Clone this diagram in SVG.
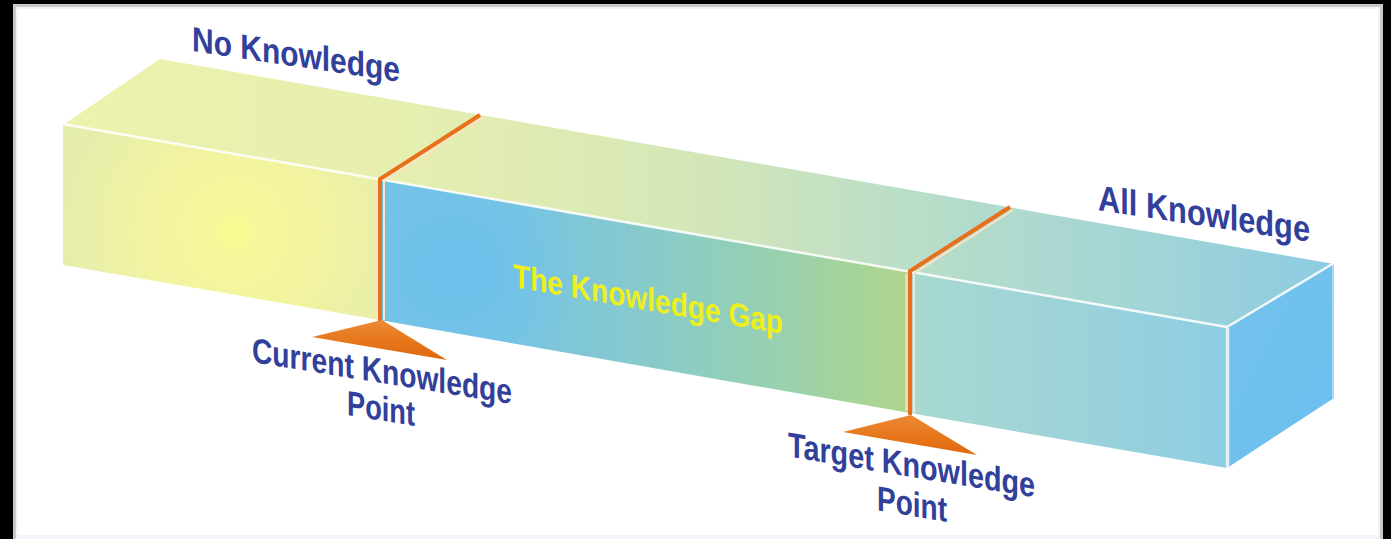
<svg xmlns="http://www.w3.org/2000/svg" width="1391" height="539" viewBox="0 0 1391 539">
  <style>
    .label { font-family: "Liberation Sans", Arial, sans-serif; font-weight: bold; fill: #31409a; }
    .gap { font-family: "Liberation Sans", Arial, sans-serif; font-weight: bold; fill: #eef01c; }
    .marker-line { stroke: #e8701a; stroke-width: 4; fill: none; stroke-linecap: butt; }
    .marker-glow { stroke: #fbe3c8; stroke-width: 2; fill: none; }
    .edge-hi { stroke: #ffffff; stroke-width: 2.5; fill: none; stroke-opacity: 0.85; }
  </style>
  <defs>
    <linearGradient id="topFace" gradientUnits="userSpaceOnUse" x1="63" y1="0" x2="1334" y2="0">
      <stop offset="0" stop-color="#edf2ac"/>
      <stop offset="0.28" stop-color="#e6eeb0"/>
      <stop offset="0.5" stop-color="#d4e6b8"/>
      <stop offset="0.72" stop-color="#b2dbcc"/>
      <stop offset="0.85" stop-color="#a2d5d6"/>
      <stop offset="1" stop-color="#8ccbe2"/>
    </linearGradient>
    <radialGradient id="leftFront" gradientUnits="userSpaceOnUse" cx="235" cy="232" r="190">
      <stop offset="0" stop-color="#fbfd8c"/>
      <stop offset="0.12" stop-color="#f6f79a"/>
      <stop offset="0.5" stop-color="#f1f3a2"/>
      <stop offset="1" stop-color="#e4ecae"/>
    </radialGradient>
    <linearGradient id="midFront" gradientUnits="userSpaceOnUse" x1="380" y1="0" x2="910" y2="0">
      <stop offset="0" stop-color="#74c3e8"/>
      <stop offset="0.25" stop-color="#78c4e2"/>
      <stop offset="0.45" stop-color="#84c9d0"/>
      <stop offset="0.7" stop-color="#94cfb6"/>
      <stop offset="0.9" stop-color="#a6d498"/>
      <stop offset="1" stop-color="#b0d68c"/>
    </linearGradient>
    <radialGradient id="midSpot" gradientUnits="userSpaceOnUse" cx="462" cy="268" r="120">
      <stop offset="0" stop-color="#6cc0ee" stop-opacity="0.9"/>
      <stop offset="1" stop-color="#6cc0ee" stop-opacity="0"/>
    </radialGradient>
    <linearGradient id="rightFront" gradientUnits="userSpaceOnUse" x1="910" y1="0" x2="1227" y2="0">
      <stop offset="0" stop-color="#a8d9d2"/>
      <stop offset="0.5" stop-color="#9cd3d9"/>
      <stop offset="1" stop-color="#8dcde2"/>
    </linearGradient>
    <linearGradient id="endFace" x1="0" y1="0" x2="1" y2="1">
      <stop offset="0" stop-color="#74c3ec"/>
      <stop offset="1" stop-color="#6bbeee"/>
    </linearGradient>
    <linearGradient id="pointer" x1="0" y1="0" x2="0" y2="1">
      <stop offset="0" stop-color="#ec8a34"/>
      <stop offset="0.6" stop-color="#e67418"/>
      <stop offset="1" stop-color="#e06810"/>
    </linearGradient>
  </defs>

  <!-- frame -->
  <rect x="0" y="0" width="1391" height="539" fill="#000000"/>
  <rect x="13" y="4" width="1370" height="535" fill="#c9c9cc"/>
  <rect x="16" y="7" width="1364" height="532" fill="#f4f5fa"/>
  <rect x="18" y="9" width="1360" height="526" fill="#ffffff"/>

  <!-- the bar -->
  <g id="bar">
    <polygon id="top-face" points="63,125 160,59 1334,264 1227,328" fill="url(#topFace)"/>
    <polygon id="front-no-knowledge" points="63,125 380,180 380,320 63,265" fill="url(#leftFront)"/>
    <g id="front-gap">
      <polygon points="380,180 910,272 910,413 380,320" fill="url(#midFront)"/>
      <polygon points="380,180 910,272 910,413 380,320" fill="url(#midSpot)"/>
    </g>
    <polygon id="front-all-knowledge" points="910,272 1227,328 1227,468 910,413" fill="url(#rightFront)"/>
    <polygon id="end-face" points="1227,328 1334,264 1334,398 1227,468" fill="url(#endFace)"/>
    <!-- edge highlights -->
    <polyline class="edge-hi" points="63,124 1227,327"/>
    <polyline class="edge-hi" points="1227,327 1334,263"/>
    <line x1="1227.5" y1="328" x2="1227.5" y2="468" stroke="#e2f3f8" stroke-width="3.5"/>
    <line x1="1333" y1="265" x2="1333" y2="398" stroke="#a9dcf2" stroke-width="2"/>
  </g>

  <!-- knowledge point markers -->
  <g id="connectors">
    <g id="current-point-marker">
      <line class="marker-glow" x1="384" y1="182" x2="384" y2="320"/>
      <line class="marker-glow" x1="376.5" y1="182" x2="376.5" y2="318"/>
      <line class="marker-glow" x1="383" y1="182" x2="483" y2="117"/>
      <polyline class="marker-line" points="380,322 380,179 480,115"/>
      <polygon points="312,337 382,320 447,360" fill="url(#pointer)"/>
    </g>
    <g id="target-point-marker">
      <line class="marker-glow" x1="914" y1="274" x2="914" y2="413"/>
      <line class="marker-glow" x1="906.5" y1="274" x2="906.5" y2="411"/>
      <line class="marker-glow" x1="913" y1="274" x2="1013" y2="210"/>
      <polyline class="marker-line" points="910,415 910,271 1010,207"/>
      <polygon points="843,432 911,415 977,455" fill="url(#pointer)"/>
    </g>
  </g>

  <!-- labels -->
  <g id="no-knowledge">
    <text class="label" font-size="35" text-anchor="middle" textLength="208" lengthAdjust="spacingAndGlyphs" transform="translate(296,66.5) skewY(8.5)">No Knowledge</text>
  </g>
  <g id="all-knowledge">
    <text class="label" font-size="36" text-anchor="middle" textLength="212" lengthAdjust="spacingAndGlyphs" transform="translate(1204,226) skewY(8.5)">All Knowledge</text>
  </g>
  <g id="knowledge-gap">
    <text class="gap" font-size="33" text-anchor="middle" textLength="270" lengthAdjust="spacingAndGlyphs" transform="translate(648,310.5) skewY(9.9)">The Knowledge Gap</text>
  </g>
  <g id="current-knowledge-point">
    <text class="label" font-size="35" text-anchor="middle" textLength="260" lengthAdjust="spacingAndGlyphs" transform="translate(382,383) skewY(9.2)">Current Knowledge</text>
    <text class="label" font-size="35" text-anchor="middle" textLength="68" lengthAdjust="spacingAndGlyphs" transform="translate(381,420.5) skewY(9.2)">Point</text>
  </g>
  <g id="target-knowledge-point">
    <text class="label" font-size="35" text-anchor="middle" textLength="247" lengthAdjust="spacingAndGlyphs" transform="translate(911.5,477) skewY(9.4)">Target Knowledge</text>
    <text class="label" font-size="35" text-anchor="middle" textLength="70" lengthAdjust="spacingAndGlyphs" transform="translate(912,516) skewY(9.4)">Point</text>
  </g>
</svg>
